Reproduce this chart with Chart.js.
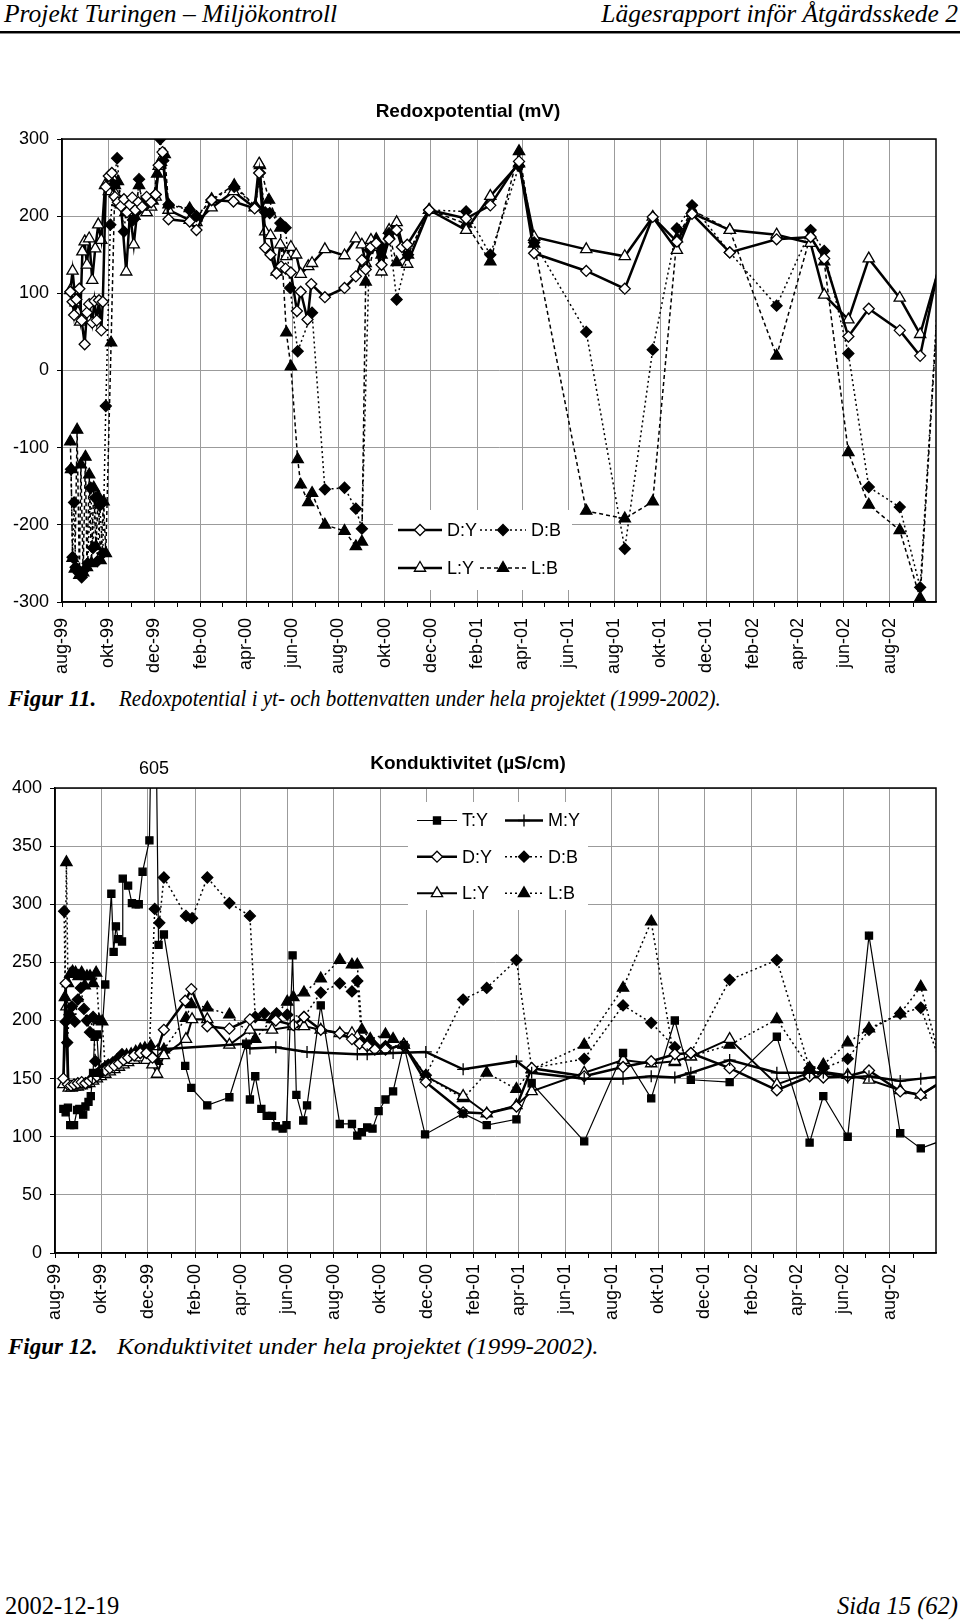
<!DOCTYPE html>
<html lang="sv">
<head>
<meta charset="utf-8">
<title>Redoxpotential och konduktivitet</title>
<script src="https://cdn.jsdelivr.net/npm/chart.js@4.4.1/dist/chart.umd.min.js"></script>
<style>
  body { margin: 0; background: #fff; }
  #sida { position: relative; width: 960px; height: 1622px; overflow: hidden; font-family: "Liberation Serif", "Times New Roman", serif; color: #000; }
  .txt { position: absolute; white-space: nowrap; }
  .hdr { top: 0px; font-size: 25.5px; font-style: italic; line-height: 28px; }
  #linje { position: absolute; left: 0; top: 31px; width: 960px; height: 2px; background: #000; border-bottom: 1px solid #888; }
  .fig { font-size: 23px; font-style: italic; line-height: 26px; transform-origin: 0 50%; }
  .diagram { position: absolute; left: 0; width: 960px; }
</style>
</head>
<body>
<div id="sida">
  <div class="txt hdr" style="left:4px">Projekt Turingen – Miljökontroll</div>
  <div class="txt hdr" style="right:2px">Lägesrapport inför Åtgärdsskede 2</div>
  <div id="linje"></div>

  <div class="diagram" style="top:95px;height:582px"><canvas id="redox"></canvas></div>
  <div class="txt fig" style="left:8px;top:686px"><b>Figur 11.</b></div>
  <div class="txt fig" style="left:119px;top:686px;transform:scaleX(0.915)">Redoxpotential i yt- och bottenvatten under hela projektet (1999-2002).</div>

  <div class="diagram" style="top:740px;height:585px"><canvas id="kond"></canvas></div>
  <div class="txt fig" style="left:8px;top:1334px"><b>Figur 12.</b></div>
  <div class="txt fig" style="left:117px;top:1334px;transform:scaleX(1.09)">Konduktivitet under hela projektet (1999-2002).</div>

  <div class="txt" style="left:5px;top:1592px;font-size:24.5px">2002-12-19</div>
  <div class="txt" style="right:2px;top:1592px;font-size:24.5px;font-style:italic">Sida 15 (62)</div>
</div>

<script>
// x-värden = dagar efter 1999-08-01
const START = Date.UTC(1999, 7, 1)
const SLUT = Date.UTC(2002, 9, 1)
const DYGN = 86400000

const manadsEtiketter = ['aug-99', 'okt-99', 'dec-99', 'feb-00', 'apr-00', 'jun-00', 'aug-00', 'okt-00', 'dec-00',
  'feb-01', 'apr-01', 'jun-01', 'aug-01', 'okt-01', 'dec-01', 'feb-02', 'apr-02', 'jun-02', 'aug-02']

// ---- Redoxpotential (mV)
const redoxDY_dag = [11,14,16,19,23,26,30,33,36,40,43,46,49,52,54,58,62,66,70,74,78,82,86,90,93,97,101,106,112,118,124,128,133,141,169,178,198,227,255,261,269,276,284,290,296,303,311,316,325,330,348,374,389,397,402,409,416,423,433,443,450,457,486,535,567,605,625,694,745,782,814,834,884,946,991,1009,1041,1068,1109,1136,1166]
const redoxDY_mV = [102,89,72,92,106,65,34,75,86,62,90,65,91,52,89,238,252,256,225,218,213,222,205,215,224,208,218,212,225,218,228,266,283,196,193,182,221,219,210,256,159,150,126,135,132,127,77,102,66,112,95,107,122,143,131,160,165,137,170,182,160,163,208,197,214,271,152,129,106,199,167,203,153,170,173,145,44,80,52,19,160]

const redoxDB_dag = [12,14,16,18,22,26,30,34,38,41,44,47,50,54,58,64,68,73,78,82,86,90,94,98,102,106,112,118,124,130,134,141,169,178,198,228,256,262,269,275,289,296,302,312,331,348,374,389,397,407,416,423,433,443,458,486,535,567,605,625,694,745,782,814,834,884,946,991,1009,1041,1068,1109,1136,1166]
const redoxDB_mV = [-128,-242,-171,-255,-262,-268,-258,-250,-152,-230,-165,-247,-175,-237,-46,189,240,275,215,180,218,210,195,205,248,215,215,222,228,300,272,215,208,200,221,238,212,256,205,204,191,185,107,25,75,-154,-152,-179,-205,156,165,160,178,92,150,208,206,150,265,166,50,-231,27,184,214,153,84,182,155,22,-151,-177,-281,200]

const redoxLY_dag = [11,14,18,21,24,27,30,33,36,40,44,48,52,57,62,66,70,74,78,85,90,95,100,106,112,118,124,128,133,141,169,178,198,227,255,261,269,276,284,289,297,303,310,316,326,331,348,374,389,397,402,409,416,423,433,443,457,486,535,567,605,625,694,745,782,814,834,884,946,991,1009,1041,1068,1109,1136,1166]
const redoxLY_mV = [104,129,88,75,63,154,167,137,171,117,158,189,169,240,232,251,230,218,215,128,205,163,210,214,205,212,225,265,276,208,195,192,211,232,211,268,180,175,128,163,148,160,150,125,135,139,157,149,171,163,139,169,160,128,182,192,138,208,182,226,268,173,157,148,199,156,204,182,176,165,98,66,145,94,47,150]

const redoxLB_dag = [11,12,14,17,20,23,25,28,31,33,36,39,42,45,48,51,55,58,65,70,74,78,84,90,96,102,108,114,120,126,131,136,141,169,178,198,228,256,262,274,289,297,303,312,316,326,331,348,374,389,397,402,416,423,433,443,458,486,535,567,605,625,694,745,782,814,834,884,946,991,1009,1041,1068,1109,1136,1166]
const redoxLB_mV = [-92,-128,-243,-257,-77,-265,-122,-262,-112,-255,-135,-250,-152,-228,-163,-246,-170,-237,36,240,245,218,205,218,200,240,210,215,220,255,270,280,215,210,198,222,240,213,266,221,185,49,5,-115,-148,-171,-159,-200,-208,-228,-222,115,170,150,175,140,150,208,190,141,284,164,-182,-192,-170,171,208,182,19,175,141,-106,-174,-207,-295,195]

// ---- Konduktivitet (µS/cm)
const kondTY_dag = [11,14,17,20,25,29,32,37,40,44,47,50,52,55,58,66,74,77,80,83,88,89,96,101,106,110,115,124,130,136,143,171,179,200,229,251,256,263,271,278,285,290,299,304,312,317,326,331,349,374,390,397,403,410,417,425,434,444,458,486,536,567,606,626,695,746,783,814,835,886,948,991,1009,1041,1069,1110,1137,1166]
const kondTY = [124,121,125,110,110,123,124,119,126,130,135,155,186,188,155,231,309,259,281,270,268,322,316,301,300,300,328,355,605,265,274,161,142,127,134,180,132,152,124,118,118,109,107,110,256,136,114,127,213,111,111,101,104,108,107,122,132,139,179,102,120,110,115,146,96,172,133,200,149,147,186,95,135,100,273,103,90,97]

const kondMY_dag = [135,251,256,290,331,397,410,444,487,536,606,626,695,746,783,814,835,886,948,991,1009,1041,1069,1110,1137,1166]
const kondMY = [175,180,176,177,173,171,171,172,173,158,165,155,150,150,152,151,155,166,155,155,155,151,152,148,150,152]

const kondDY_dag = [11,14,17,21,25,30,35,40,45,50,55,60,66,72,78,84,90,96,104,112,120,128,134,143,171,179,200,229,256,290,313,327,349,374,390,400,410,420,434,458,487,536,567,606,626,695,746,783,814,835,886,948,991,1009,1041,1069,1110,1137,1166]
const kondDY = [150,232,145,144,145,146,147,146,148,150,152,155,157,159,161,163,166,168,170,172,172,168,174,192,217,227,195,193,201,200,196,203,192,189,184,180,178,175,175,179,147,121,120,126,159,152,160,165,171,172,159,140,152,151,152,157,139,136,148]

const kondDB_dag = [12,14,16,19,22,26,30,34,38,42,46,50,53,57,62,66,70,76,82,88,94,100,106,112,118,124,131,137,143,172,180,200,229,256,263,275,291,305,327,349,374,390,397,403,410,420,434,458,487,536,567,606,626,695,746,783,814,835,886,948,991,1009,1041,1069,1110,1137,1166]
const kondDB = [294,199,181,205,212,199,218,228,210,200,190,203,165,155,158,160,162,164,167,171,168,170,172,172,174,176,296,284,323,290,288,323,301,290,203,206,206,205,203,224,232,225,234,182,180,178,178,178,153,218,228,252,159,167,213,198,177,172,235,252,159,159,167,192,206,211,158]

const kondLY_dag = [11,15,18,22,26,30,35,40,45,50,55,60,66,72,78,84,90,96,104,112,120,128,134,143,172,180,200,229,256,285,313,327,349,374,390,397,410,434,458,487,536,567,606,626,695,746,783,814,835,886,948,991,1009,1041,1069,1110,1137,1166]
const kondLY = [145,212,142,142,143,143,144,145,146,148,150,152,154,156,158,160,162,164,166,168,166,162,154,170,184,201,201,179,192,192,195,195,192,189,189,186,180,175,179,152,135,120,127,139,155,166,163,165,169,184,145,155,156,153,149,140,136,148]

const kondLB_dag = [13,15,17,20,23,27,31,35,39,42,46,50,54,58,62,66,70,76,82,88,94,100,106,112,118,126,134,143,172,179,200,229,263,285,305,313,327,349,374,390,397,403,414,434,444,458,487,536,567,606,626,695,746,783,814,835,886,948,991,1009,1041,1069,1110,1137,1166]
const kondLB = [220,336,232,240,242,241,238,241,230,238,238,232,241,200,199,158,160,162,165,168,170,171,173,175,176,178,165,175,202,214,211,205,184,201,216,220,224,236,252,248,248,192,184,188,184,179,152,133,155,141,158,179,228,285,164,169,179,201,159,162,181,193,206,229,158]

Chart.defaults.font.family = "'Liberation Sans', Arial, sans-serif"
Chart.defaults.font.size = 18
Chart.defaults.color = '#000'

const GRID = '#9b9b9b'
const TEXTFONT = "18px 'Liberation Sans', Arial, sans-serif"

// streck vid varje månadsskifte, etikett varannan månad
const manadsStreck = []
for (let m = 0; m < 38; m++) manadsStreck.push((Date.UTC(1999, 7 + m, 1) - START) / DYGN)

function tidsaxel(hojd, avstand) {
  return {
    type: 'linear',
    min: 0,
    max: (SLUT - START) / DYGN,
    afterBuildTicks: s => { s.ticks = manadsStreck.map(v => ({ value: v })) },
    afterFit: s => { s.height = hojd },
    ticks: {
      autoSkip: false, minRotation: 90, maxRotation: 90, padding: avstand,
      callback: (v, i) => i % 2 ? '' : manadsEtiketter[i / 2]
    },
    grid: { color: c => c.index % 2 ? 'rgba(0,0,0,0)' : GRID, tickColor: '#000', tickLength: 5 },
    border: { color: '#000', width: 1.5 }
  }
}

function vardeaxel(min, max, steg, bredd) {
  return {
    min, max,
    afterFit: s => { s.width = bredd },
    ticks: { stepSize: steg, padding: 8 },
    grid: { color: GRID, tickColor: '#000', tickLength: 5 },
    border: { color: '#000', width: 1.5 }
  }
}

function serie(label, dagar, varden, stil) {
  return Object.assign({
    label,
    data: dagar.map((d, i) => ({ x: d, y: varden[i] })),
    borderColor: '#000',
    pointBorderColor: '#000',
    pointBorderWidth: 1.3,
    borderDash: [],
    tension: 0,
    fill: false
  }, stil)
}

const oppenRuter = { pointStyle: 'rectRot', pointRadius: 5.5, pointBackgroundColor: '#fff', borderWidth: 2.5 }
const fylldRuter = { pointStyle: 'rectRot', pointRadius: 5.5, pointBackgroundColor: '#000', borderWidth: 1.5, borderDash: [2, 3] }
const oppenTriangel = { pointStyle: 'triangle', pointRadius: 6.5, pointBackgroundColor: '#fff', borderWidth: 2.5 }
const fylldTriangel = { pointStyle: 'triangle', pointRadius: 6.5, pointBackgroundColor: '#000', borderWidth: 1.5, borderDash: [4, 3] }

function markor(ctx, stil, x, y, r, fyllning) {
  ctx.beginPath()
  if (stil === 'rectRot') {
    ctx.moveTo(x - r, y); ctx.lineTo(x, y - r); ctx.lineTo(x + r, y); ctx.lineTo(x, y + r); ctx.closePath()
  } else if (stil === 'triangle') {
    ctx.moveTo(x, y - r); ctx.lineTo(x + r * 0.866, y + r / 2); ctx.lineTo(x - r * 0.866, y + r / 2); ctx.closePath()
  } else if (stil === 'rect') {
    const s = r * Math.SQRT1_2
    ctx.rect(x - s, y - s, 2 * s, 2 * s)
  } else if (stil === 'cross') {
    ctx.moveTo(x, y - r); ctx.lineTo(x, y + r); ctx.moveTo(x - r, y); ctx.lineTo(x + r, y)
  }
  ctx.setLineDash([])
  if (stil !== 'cross') { ctx.fillStyle = fyllning; ctx.fill() }
  ctx.stroke()
}

// ram runt diagramytan, förklaring i vit ruta, ev. etikett ovanför
const ram = {
  id: 'ram',
  afterDatasetsDraw(chart, args, o) {
    const { ctx, chartArea: a } = chart
    ctx.save()
    ctx.lineWidth = 1.5
    ctx.strokeStyle = '#000'
    ctx.strokeRect(a.left, a.top, a.right - a.left, a.bottom - a.top)

    if (o.etikett) {
      ctx.font = TEXTFONT
      ctx.fillStyle = '#000'
      ctx.textAlign = 'center'
      ctx.textBaseline = 'middle'
      ctx.fillText(o.etikett.text, chart.scales.x.getPixelForValue(o.etikett.x), a.top - 19)
    }

    const [bx, by, bw, bh] = o.ruta
    ctx.fillStyle = '#fff'
    ctx.fillRect(bx, by, bw, bh)
    chart.data.datasets.forEach((ds, i) => {
      const [x0, x1, y] = o.platser[i]
      ctx.strokeStyle = '#000'
      ctx.lineWidth = ds.borderWidth
      ctx.setLineDash(ds.borderDash)
      ctx.beginPath(); ctx.moveTo(x0, y); ctx.lineTo(x1, y); ctx.stroke()
      ctx.lineWidth = ds.pointBorderWidth
      markor(ctx, ds.pointStyle, (x0 + x1) / 2, y, ds.pointRadius, ds.pointBackgroundColor)
      ctx.fillStyle = '#000'
      ctx.font = TEXTFONT
      ctx.textAlign = 'left'
      ctx.textBaseline = 'middle'
      ctx.fillText(ds.label, x1 + 5, y + 1)
    })
    ctx.restore()
  }
}

new Chart(document.getElementById('redox'), {
  type: 'line',
  data: {
    datasets: [
      serie('D:Y', redoxDY_dag, redoxDY_mV, oppenRuter),
      serie('D:B', redoxDB_dag, redoxDB_mV, fylldRuter),
      serie('L:Y', redoxLY_dag, redoxLY_mV, oppenTriangel),
      serie('L:B', redoxLB_dag, redoxLB_mV, fylldTriangel)
    ]
  },
  options: {
    responsive: true,
    maintainAspectRatio: false,
    animation: false,
    events: [],
    layout: { padding: { left: 0, right: 24, top: 0, bottom: 0 } },
    plugins: {
      legend: { display: false },
      tooltip: { enabled: false },
      title: { display: true, text: 'Redoxpotential (mV)', font: { size: 19, weight: 'bold' }, color: '#000', padding: { top: 5.6, bottom: 15.6 } },
      ram: {
        ruta: [393, 415, 179, 80],
        platser: [[398, 442, 435], [480, 526, 435], [398, 442, 473], [480, 526, 473]]
      }
    },
    scales: { x: tidsaxel(75, 11), y: vardeaxel(-300, 300, 100, 62) }
  },
  plugins: [ram]
})

new Chart(document.getElementById('kond'), {
  type: 'line',
  data: {
    datasets: [
      serie('T:Y', kondTY_dag, kondTY, { pointStyle: 'rect', pointRadius: 5, pointBackgroundColor: '#000', borderWidth: 1.2 }),
      serie('M:Y', kondMY_dag, kondMY, { pointStyle: 'cross', pointRadius: 6, pointBackgroundColor: '#000', borderWidth: 2.5 }),
      serie('D:Y', kondDY_dag, kondDY, oppenRuter),
      serie('D:B', kondDB_dag, kondDB, fylldRuter),
      serie('L:Y', kondLY_dag, kondLY, Object.assign({}, oppenTriangel, { borderWidth: 2 })),
      serie('L:B', kondLB_dag, kondLB, Object.assign({}, fylldTriangel, { borderDash: [2, 3] }))
    ]
  },
  options: {
    responsive: true,
    maintainAspectRatio: false,
    animation: false,
    events: [],
    layout: { padding: { left: 0, right: 24, top: 0, bottom: 0 } },
    plugins: {
      legend: { display: false },
      tooltip: { enabled: false },
      title: { display: true, text: 'Konduktivitet (µS/cm)', font: { size: 19, weight: 'bold' }, color: '#000', padding: { top: 12.6, bottom: 12.6 } },
      ram: {
        etikett: { x: 130, text: '605' },
        ruta: [408, 62, 180, 108],
        platser: [[417, 457, 80.5], [505, 543, 80.5], [417, 457, 116.7], [505, 543, 116.7], [417, 457, 153.3], [505, 543, 153.3]]
      }
    },
    scales: { x: tidsaxel(72, 6), y: vardeaxel(0, 400, 50, 55) }
  },
  plugins: [ram]
})
</script>
</body>
</html>
